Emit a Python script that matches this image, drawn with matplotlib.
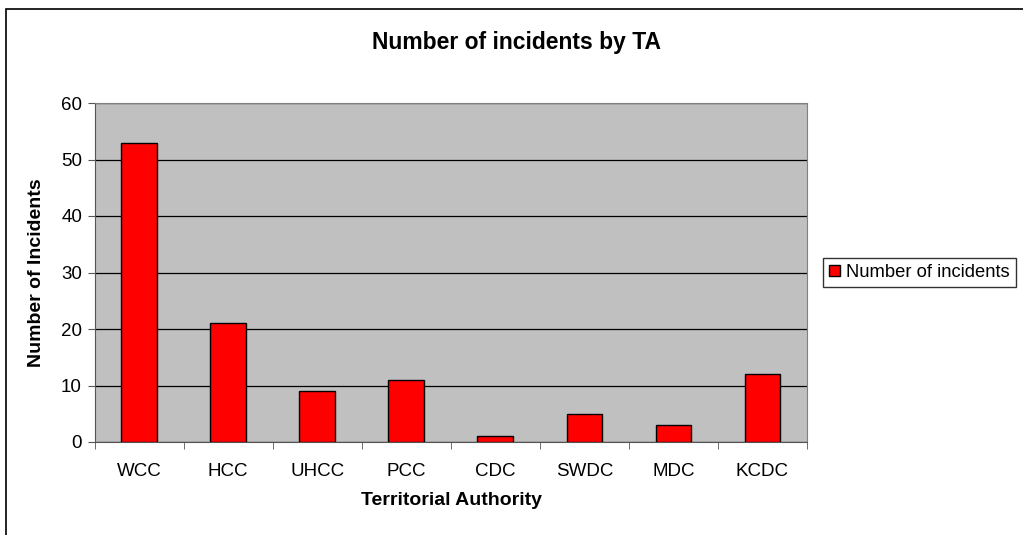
import matplotlib.pyplot as plt
from matplotlib.patches import Rectangle

plt.rcParams['font.family'] = ['Liberation Sans', 'DejaVu Sans']

ta_names = ["WCC", "HCC", "UHCC", "PCC", "CDC", "SWDC", "MDC", "KCDC"]
incidents = [53, 21, 9, 11, 1, 5, 3, 12]
y_ticks = [0, 10, 20, 30, 40, 50, 60]

W, H = 1023, 535
fig = plt.figure(figsize=(W / 100, H / 100), dpi=100)
ax = fig.add_axes([94.5 / W, (H - 442) / H, (807 - 94.5) / W, (442 - 103) / H])
ax.set_facecolor("#c0c0c0")

x = range(len(ta_names))
ax.bar(x, incidents, width=0.4, color="red", edgecolor="black", linewidth=1,
       label="Number of incidents", zorder=3)

ax.set_xlim(-0.5, len(ta_names) - 0.5)
ax.set_ylim(0, 60)
ax.set_yticks(y_ticks)
ax.yaxis.grid(True, color="black", linewidth=0.9, zorder=1)
ax.set_xticks(list(x))
ax.set_xticklabels(ta_names, fontsize=13.5)
ax.set_xticks([i - 0.5 for i in range(len(ta_names) + 1)], minor=True)
ax.tick_params(axis="x", which="major", length=0, pad=15)
ax.tick_params(axis="x", which="minor", length=5, direction="out", color="#555555")
ax.tick_params(axis="y", labelsize=13.5, length=5, direction="out", color="#555555", pad=4)

for side in ["top", "right"]:
    ax.spines[side].set_color("#808080")
for side in ["left", "bottom"]:
    ax.spines[side].set_color("#555555")

fig.text(516 / W, (H - 49) / H, "Number of incidents by TA", fontsize=16.5,
         fontweight="bold", ha="center", va="baseline")
fig.text(451.5 / W, (H - 505) / H, "Territorial Authority", fontsize=14,
         fontweight="bold", ha="center", va="baseline")
fig.text(37 / W, (H - 273) / H, "Number of Incidents", fontsize=14,
         fontweight="bold", ha="center", va="center", rotation=90)

leg = ax.legend(loc="center left", bbox_to_anchor=(823 / W, (H - 272.5) / H),
                bbox_transform=fig.transFigure, fontsize=13.2,
                frameon=True, fancybox=False, handlelength=0.6, handleheight=0.6,
                handletextpad=0.3, borderpad=0.35, borderaxespad=0)
leg.get_frame().set_edgecolor("black")
leg.get_frame().set_linewidth(1)

fig.patches.append(Rectangle((5.5 / W, -0.05), 1.2, (H - 9) / H + 0.05,
                             transform=fig.transFigure, fill=False,
                             edgecolor="black", linewidth=1.2))

fig.savefig("out.png", dpi=100)
